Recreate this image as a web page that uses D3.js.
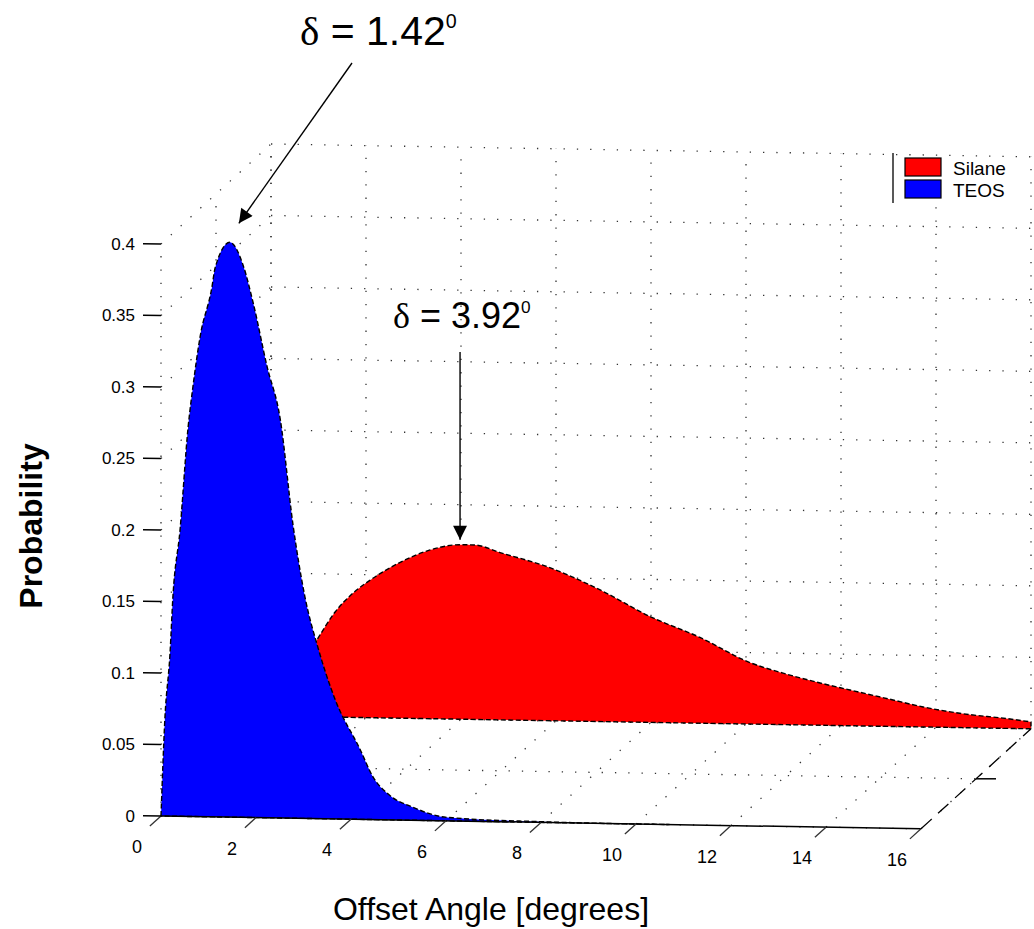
<!DOCTYPE html>
<html><head><meta charset="utf-8">
<script src="https://cdn.jsdelivr.net/npm/d3@7"></script>
<style>body{margin:0;background:#fff}svg text{font-family:"Liberation Sans",Arial,sans-serif;fill:#000}</style>
</head><body><svg id="c" width="1034" height="929"></svg>
<script>
// ---------- data ----------
const seriesNames = ["Silane", "TEOS"];
const seriesColors = ["#ff0000", "#0000ff"];
const seriesDepth = [2, 1];

const teosX = [0, 0.08, 0.19, 0.25, 0.40, 0.57, 0.67, 0.82, 1.07, 1.14, 1.45, 1.73, 1.94, 2.23, 2.51, 2.78, 3.03, 3.31, 3.66, 4.19, 4.46, 4.82, 5.31, 5.87, 6.23, 8.0, 10.7];
const teosP = [0, 0.067, 0.114, 0.153, 0.200, 0.272, 0.300, 0.335, 0.370, 0.384, 0.402, 0.386, 0.360, 0.316, 0.279, 0.205, 0.155, 0.119, 0.084, 0.049, 0.030, 0.017, 0.009, 0.003, 0.002, 0.0005, 0];

const silaneX = [0, 0.5, 0.99, 1.35, 1.73, 2.08, 2.72, 3.35, 3.98, 4.29, 4.82, 5.87, 6.93, 7.98, 9.03, 10.08, 10.78, 11.5, 12.19, 13.03, 13.73, 14.5, 15.56, 16.0];
const silaneP = [0, 0.028, 0.055, 0.0735, 0.087, 0.096, 0.109, 0.118, 0.122, 0.122, 0.117, 0.107, 0.092, 0.074, 0.060, 0.043, 0.036, 0.030, 0.025, 0.019, 0.014, 0.010, 0.0066, 0.0048];

const xTicks = [0, 2, 4, 6, 8, 10, 12, 14, 16];
const zTicks = [0, 0.05, 0.1, 0.15, 0.2, 0.25, 0.3, 0.35, 0.4];
const zTickLabels = ["0", "0.05", "0.1", "0.15", "0.2", "0.25", "0.3", "0.35", "0.4"];
const depthTicks = [1, 1.5, 2];
const peakLabels = ["1.42", "3.92"];
const peakX = [1.45, 3.98];
const peakP = [0.402, 0.122];

// ---------- projection (oblique 3-D view) ----------
const svg = d3.select("#c");
const xS = d3.scaleLinear().domain([0, 16]).range([0, 760]);
const dS = d3.scaleLinear().domain([1, 2]).range([0, 1]);
const zS = d3.scaleLinear().domain([0, 0.4]).range([0, 572]);
const O = [161, 816], exSlope = 0.8 / 47.5, EY = [110, -100];
function proj(x, d, z) {
  const u = xS(x), t = dS(d);
  return [O[0] + u + EY[0] * t, O[1] + u * exSlope + EY[1] * t - zS(z)];
}

// ---------- grid ----------
const gridG = svg.append("g").attr("stroke", "#333").attr("stroke-width", 1.3)
  .attr("stroke-dasharray", "1.3,12").attr("fill", "none");
function seg(g, a, b) { g.append("line").attr("x1", a[0]).attr("y1", a[1]).attr("x2", b[0]).attr("y2", b[1]); }
// back wall
xTicks.forEach(x => seg(gridG, proj(x, 2, 0), proj(x, 2, 0.4)));
zTicks.forEach(z => seg(gridG, proj(0, 2, z), proj(16, 2, z)));
// left wall
depthTicks.forEach(d => seg(gridG, proj(0, d, 0), proj(0, d, 0.4)));
zTicks.forEach(z => seg(gridG, proj(0, 1, z), proj(0, 2, z)));
// floor
xTicks.forEach(x => seg(gridG, proj(x, 1, 0), proj(x, 2, 0)));
depthTicks.forEach(d => seg(gridG, proj(0, d, 0), proj(16, d, 0)));

// ---------- areas ----------
const topLine = d3.line().curve(d3.curveMonotoneX);
function area(xs, ps, depth, color) {
  const pts = xs.map((x, i) => proj(x, depth, ps[i]));
  const b1 = proj(xs[xs.length - 1], depth, 0), b0 = proj(xs[0], depth, 0);
  const d = topLine(pts) + `L${b1[0]},${b1[1]}L${b0[0]},${b0[1]}Z`;
  svg.append("path").attr("d", d).attr("fill", color)
    .attr("stroke", "#000").attr("stroke-width", 1.4).attr("stroke-dasharray", "5,2.5")
    .attr("stroke-linejoin", "round");
}
area(silaneX, silaneP, seriesDepth[0], seriesColors[0]);
area(teosX, teosP, seriesDepth[1], seriesColors[1]);

// ---------- axes ----------
const axG = svg.append("g").attr("stroke", "#000").attr("fill", "none");
seg(axG.append("g").attr("stroke-width", 1.5), proj(0, 1, 0), proj(16, 1, 0));
seg(axG.append("g").attr("stroke-width", 1.3).attr("stroke-dasharray", "14,9"), proj(16, 1, 0), proj(16, 2, 0));
// x ticks (drawn toward viewer, along -depth)
const eyLen = Math.hypot(EY[0], EY[1]);
xTicks.forEach(x => {
  const p = proj(x, 1, 0);
  seg(axG.append("g").attr("stroke-width", 1.3).attr("stroke", "#333"), p, [p[0] - EY[0] / eyLen * 15, p[1] - EY[1] / eyLen * 15]);
  svg.append("text").attr("x", p[0] - 24).attr("y", p[1] + 31).attr("text-anchor", "middle")
    .attr("dominant-baseline", "central").attr("font-size", 18).text(x);
});
// depth tick
{ const p = proj(16, 1.5, 0); seg(axG.append("g").attr("stroke-width", 1.5), p, [p[0] + 20, p[1]]); }
// z ticks
zTicks.forEach((z, i) => {
  const p = proj(0, 1, z);
  seg(axG.append("g").attr("stroke-width", 1.5), p, [p[0] - 18, p[1] - 0.3]);
  svg.append("text").attr("x", p[0] - 26).attr("y", p[1]).attr("text-anchor", "end")
    .attr("dominant-baseline", "central").attr("font-size", 17).text(zTickLabels[i]);
});

// ---------- titles ----------
svg.append("text").attr("x", 491).attr("y", 920).attr("text-anchor", "middle")
  .attr("font-size", 32).text("Offset Angle [degrees]");
svg.append("text").attr("transform", "translate(42,526) rotate(-90)").attr("text-anchor", "middle")
  .attr("font-size", 32).attr("font-weight", "bold").text("Probability");

// ---------- annotations ----------
svg.append("defs").append("marker").attr("id", "ah").attr("viewBox", "0 0 10 10")
  .attr("refX", 10).attr("refY", 5).attr("markerWidth", 22).attr("markerHeight", 14)
  .attr("markerUnits", "userSpaceOnUse").attr("orient", "auto")
  .append("path").attr("d", "M0,0 L10,5 L0,10 Z").attr("fill", "#000");
function annot(label, tx, ty, fs, start, tip) {
  const t = svg.append("text").attr("x", tx).attr("y", ty).attr("font-size", fs);
  t.append("tspan").attr("font-family", "'Liberation Serif','DejaVu Serif',serif").text("δ");
  t.append("tspan").text(" =  " + label);
  t.append("tspan").attr("font-size", fs * 0.48).attr("dy", -fs * 0.42).text("0");
  svg.append("line").attr("x1", start[0]).attr("y1", start[1]).attr("x2", tip[0]).attr("y2", tip[1])
    .attr("stroke", "#000").attr("stroke-width", 1.4).attr("marker-end", "url(#ah)");
}
const pk0 = proj(peakX[0], seriesDepth[1], peakP[0]);
const pk1 = proj(peakX[1], seriesDepth[0], peakP[1]);
annot(peakLabels[0], 300, 45, 41, [352, 63], [pk0[0] + 9, pk0[1] - 19]);
annot(peakLabels[1], 393, 328, 36, [pk1[0], 352], [pk1[0], pk1[1] - 5]);

// ---------- legend ----------
const lg = svg.append("g");
lg.append("line").attr("x1", 893).attr("y1", 153).attr("x2", 893).attr("y2", 203).attr("stroke", "#222").attr("stroke-width", 1.5);
seriesNames.forEach((n, i) => {
  lg.append("rect").attr("x", 905).attr("y", 158 + i * 22).attr("width", 36).attr("height", 18)
    .attr("fill", seriesColors[i]).attr("stroke", "#000").attr("stroke-width", 1.2);
  lg.append("text").attr("x", 953).attr("y", 168 + i * 22).attr("dominant-baseline", "central")
    .attr("font-size", 19).text(n);
});
</script></body></html>
